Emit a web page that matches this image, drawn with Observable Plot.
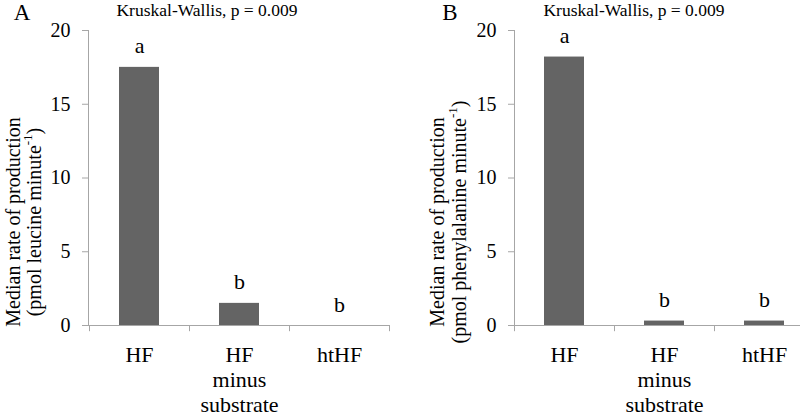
<!DOCTYPE html>
<html>
<head>
<meta charset="utf-8">
<script src="https://cdn.jsdelivr.net/npm/d3@7"></script>
<script src="https://cdn.jsdelivr.net/npm/@observablehq/plot@0.6"></script>
<style>
  html, body { margin: 0; padding: 0; background: #fff; }
  #wrap { position: relative; width: 800px; height: 419px; overflow: hidden; font-family: "Liberation Serif", "Times New Roman", serif; }
  #wrap svg { position: absolute; top: 0; font-family: "Liberation Serif", "Times New Roman", serif; }
</style>
</head>
<body>
<div id="wrap"></div>
<script>
// ---- data ----
const categories = ["HF", "HF minus substrate", "htHF"];
const leucineValues = [17.5, 1.5, 0];
const phenylalanineValues = [18.2, 0.3, 0.3];
const leucineLetters = ["a", "b", "b"];
const phenylalanineLetters = ["a", "b", "b"];
const yTicks = [0, 5, 10, 15, 20];
const panelLabels = ["A", "B"];
const statText = "Kruskal-Wallis, p = 0.009";
const yTitleLine1 = "Median rate of production";
const yTitleLine2 = [["(pmol leucine minute", "-1", ")"], ["(pmol phenylalanine minute", "-1", ")"]];

const FONT = '"Liberation Serif", "Times New Roman", serif';
const AXIS_GRAY = "#a6a6a6";
const BAR = "#646464";

function panel(values, letters, opts) {
  const data = categories.map((c, i) => ({cat: c, value: values[i], letter: letters[i]}));
  return Plot.plot({
    width: opts.width,
    height: 419,
    marginLeft: opts.marginLeft,
    marginRight: opts.marginRight,
    marginTop: 30,
    marginBottom: 94,
    style: {fontFamily: FONT, background: "white", overflow: "visible"},
    x: {domain: categories, paddingInner: 0.6, paddingOuter: 0.3, label: null},
    y: {domain: [0, 20], label: null},
    marks: [
      Plot.barY(data, {x: "cat", y: "value", fill: BAR}),
      Plot.frame({anchor: "left", stroke: AXIS_GRAY}),
      Plot.frame({anchor: "bottom", stroke: AXIS_GRAY}),
      // category boundary ticks
      Plot.ruleX(data, {x: "cat", y1: 0, y2: -0.42, dx: -50, stroke: AXIS_GRAY, clip: false}),
      Plot.ruleX(data.slice(-1), {x: "cat", y1: 0, y2: -0.42, dx: 50, stroke: AXIS_GRAY, clip: false}),
      Plot.axisY({ticks: yTicks, tickSize: 6, tickPadding: 12, stroke: AXIS_GRAY, fill: "black", fontSize: 20, label: null}),
      Plot.axisX({tickSize: 0, tickPadding: 19, fill: "black", fontSize: 22, lineHeight: 1.14,
                  tickFormat: d => d.replace(/ /g, "\n"), label: null}),
      Plot.text(data, {x: "cat", y: "value", text: "letter", dy: -21, fontSize: 22, fill: "black"})
    ]
  });
}

const wrap = document.getElementById("wrap");

const configs = [
  {values: leucineValues, letters: leucineLetters, width: 400, marginLeft: 88, marginRight: 11, left: 0,
   t1x: 13, t2x: 34, labelX: 22, statX: 207},
  {values: phenylalanineValues, letters: phenylalanineLetters, width: 414, marginLeft: 114, marginRight: 0, left: 400,
   t1x: 37, t2x: 59, labelX: 50, statX: 234}
];

configs.forEach((c, i) => {
  const svg = panel(c.values, c.letters, c);
  svg.style.left = c.left + "px";
  wrap.appendChild(svg);
  const s = d3.select(svg);
  // panel letter
  s.append("text").attr("x", c.labelX).attr("y", 20)
    .attr("font-size", 23).attr("fill", "black").text(panelLabels[i]);
  // stat text
  s.append("text").attr("x", c.statX).attr("y", 16).attr("text-anchor", "middle")
    .attr("font-size", 17.5).attr("fill", "black").text(statText);
  // y titles
  const cy = 222;
  s.append("text").attr("transform", `translate(${c.t1x},${cy}) rotate(-90)`)
    .attr("text-anchor", "middle").attr("dominant-baseline", "central")
    .attr("font-size", 20).attr("fill", "black").text(yTitleLine1);
  const t2 = s.append("text").attr("transform", `translate(${c.t2x},${cy}) rotate(-90)`)
    .attr("text-anchor", "middle").attr("dominant-baseline", "central")
    .attr("font-size", 20).attr("fill", "black");
  const parts = yTitleLine2[i];
  t2.append("tspan").text(parts[0]);
  t2.append("tspan").attr("font-size", 13).attr("dy", -7).text(parts[1]);
  t2.append("tspan").attr("dy", 7).text(parts[2]);
});
</script>
</body>
</html>
